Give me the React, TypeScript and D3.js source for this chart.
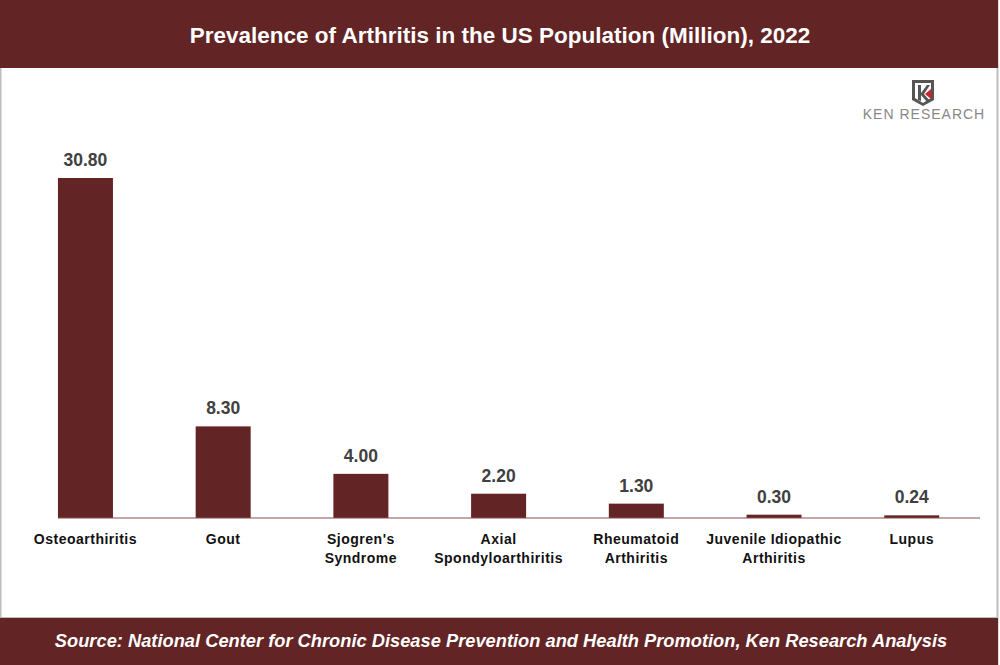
import React from "react";
import * as d3 from "d3";

const categories = [
  ["Osteoarthiritis"],
  ["Gout"],
  ["Sjogren's", "Syndrome"],
  ["Axial", "Spondyloarthiritis"],
  ["Rheumatoid", "Arthiritis"],
  ["Juvenile Idiopathic", "Arthiritis"],
  ["Lupus"],
];
const values = [30.8, 8.3, 4.0, 2.2, 1.3, 0.3, 0.24];
const labels = ["30.80", "8.30", "4.00", "2.20", "1.30", "0.30", "0.24"];

const W = 1000;
const H = 665;
const dark = "#622424";

export default function App() {
  const x = d3
    .scaleBand<number>()
    .domain(d3.range(values.length))
    .range([16.6, 980.6])
    .paddingInner(0.6)
    .paddingOuter(0.3);
  const y = d3.scaleLinear().domain([0, 30.8]).range([518, 178]);
  const bw = 55;
  const sans = "'Liberation Sans', Arial, sans-serif";
  return (
    <svg width={W} height={H} style={{ position: "absolute", left: 0, top: 0 }}>
      <rect x={0} y={0} width={W} height={H} fill="#fff" />
      <rect x={0.5} y={0.5} width={997} height={H - 1} fill="none" stroke="#bdbdbd" strokeWidth={2} />
      <rect x={0} y={0} width={998} height={68} fill={dark} />
      <text x={500} y={43} textAnchor="middle" fill="#fff" fontFamily={sans} fontWeight="bold" fontSize={22.5}>
        Prevalence of Arthritis in the US Population (Million), 2022
      </text>
      {/* logo */}
      <g>
        <path d="M912,80 L934,80 L934,100 L923,106 L912,100 Z" fill="#555" />
        <path d="M915,83 L931,83 L931,98 L923,103 L915,98 Z" fill="#fff" />
        <path d="M918,85 L921,85 L921,93 L927,85 L930,85 L924,94 L930,101 L927,102 L921,95 L921,101 L918,100 Z" fill="#555" />
        <path d="M925,94 L931,89 L931,99 Z" fill="#d0202a" />
        <text x={924} y={119} textAnchor="middle" fill="#888" fontFamily={sans} fontSize={14} letterSpacing={1}>
          KEN RESEARCH
        </text>
      </g>
      {values.map((v, i) => {
        const cx = (x(i) as number) + x.bandwidth() / 2;
        return (
          <g key={i}>
            <rect x={cx - bw / 2} y={y(v)} width={bw} height={y(0) - y(v)} fill={dark} />
            <text x={cx} y={y(v) - 12} textAnchor="middle" fill="#404040" fontFamily={sans} fontWeight="bold" fontSize={17.5}>
              {labels[i]}
            </text>
            {categories[i].map((line, j) => (
              <text key={j} x={cx} y={544 + j * 19} textAnchor="middle" fill="#111" fontFamily={sans} fontWeight="bold" fontSize={14} letterSpacing={0.5}>
                {line}
              </text>
            ))}
          </g>
        );
      })}
      <line x1={58} x2={980} y1={y(0)} y2={y(0)} stroke="#8a4a4a" strokeWidth={1} />
      <rect x={0} y={618} width={998} height={47} fill={dark} />
      <line x1={0} x2={998} y1={617.5} y2={617.5} stroke="#bdbdbd" strokeWidth={1} />
      <text x={501} y={647} textAnchor="middle" fill="#fff" fontFamily={sans} fontWeight="bold" fontStyle="italic" fontSize={18.3}>
        Source: National Center for Chronic Disease Prevention and Health Promotion, Ken Research Analysis
      </text>
    </svg>
  );
}
